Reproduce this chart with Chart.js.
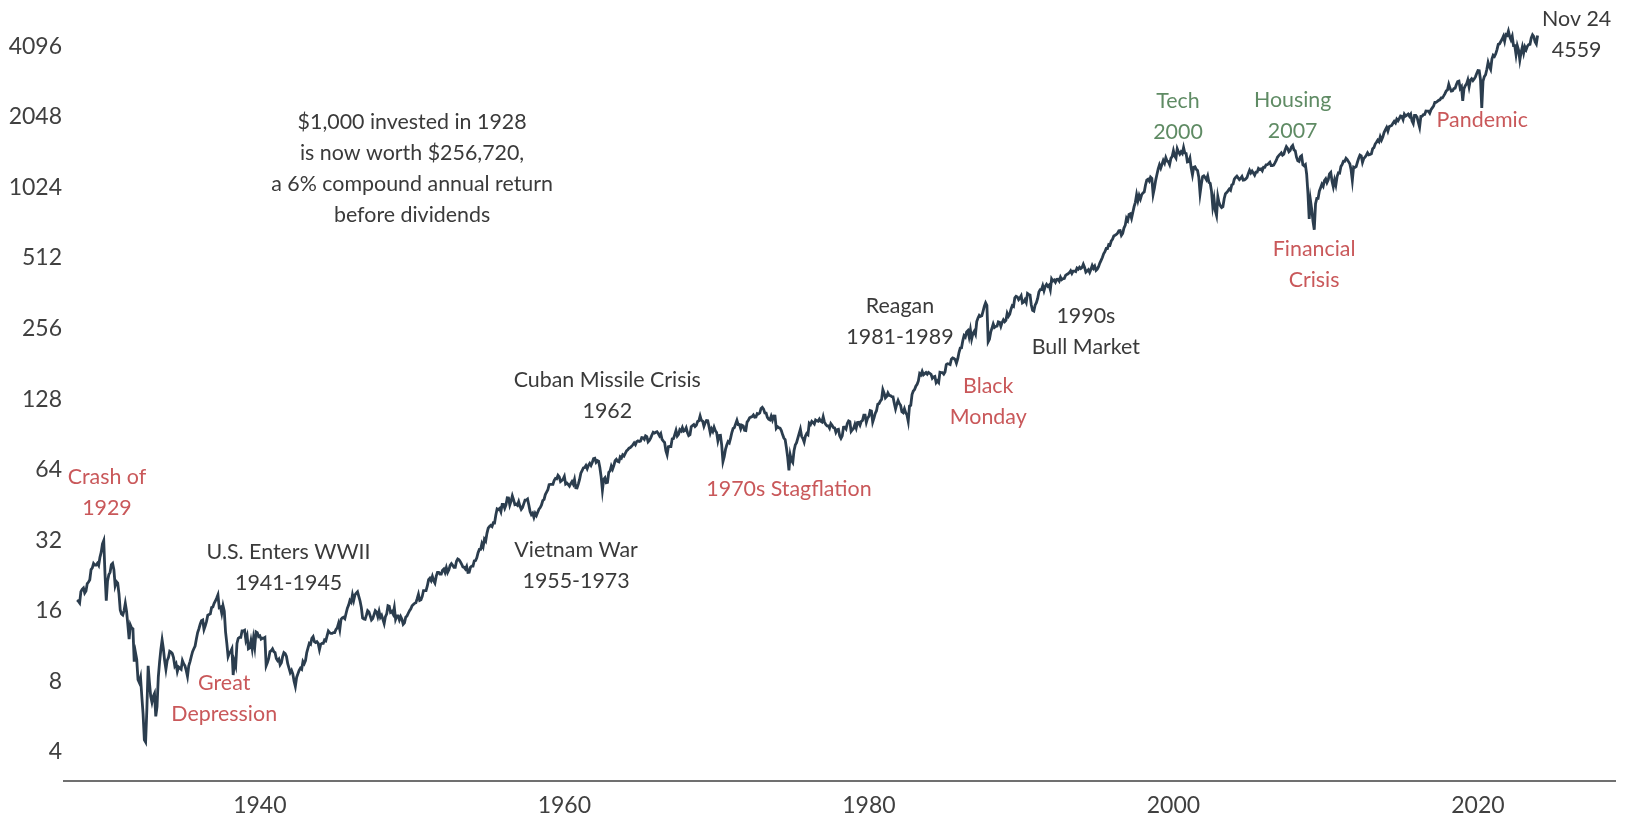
<!DOCTYPE html>
<html>
<head>
<meta charset="utf-8">
<script src="https://cdn.jsdelivr.net/npm/chart.js@4"></script>
<style>
html,body{margin:0;padding:0;background:#fff;}
canvas{display:block;}
</style>
</head>
<body>
<canvas id="c" width="1628" height="818"></canvas>
<script>
// S&P 500 level, start of 1928 then month-end values
const startYear = 1928;
const spx = [17.76,
17.57,17.26,19.28,19.75,20,19.05,19.43,20.87,21.19,21.68,23.98,24.35,
25.45,25.06,25.06,25.51,24.98,27.02,28.45,30.85,31.86,22.88,17.66,21.45,
22.79,23.32,25.14,25.46,23.94,20.46,21.3,21,18.9,16.1,15.5,15.34,
15.98,17.2,15.9,13.9,12.1,13.9,13.5,13.4,9.7,10.6,9.9,8.12,
7.9,8.3,6.9,5.8,4.5,4.4,6.1,9.3,7.9,6.9,6.5,6.89,
7.09,5.66,6.23,8.32,9.64,10.91,12,11,9.8,9,9.8,10.1,
10.74,10.66,10.5,10.08,9.3,9.5,8.8,9.2,9.1,9,9.8,9.5,
9.3,8.9,8.4,9.3,9.7,10.2,10.7,11,11.3,12.1,12.9,13.4,
14,14.5,14.6,13.3,13.8,14.4,15.3,15.4,15.5,16.5,16.6,17.2,
17.6,18.1,18.68,16.5,16.6,15.6,16.8,15.9,13,11.6,10.2,10.55,
10.7,11,8.5,9.7,9.3,11.6,12.2,12.3,12.3,13.1,13.1,13.2,
12,12.5,11,11.1,11.9,11,12.2,11.2,13,12.9,12.4,12.5,
12.1,12.2,12.2,12.3,9.3,9.6,10,10.7,10.8,11,10.7,10.6,
10,9.8,9.95,9.4,9.6,10.2,10.6,10.5,10.2,9.5,9.1,8.7,
8.9,8.6,8,7.6,8.3,8.6,8.9,9.1,9,9.7,9.5,9.8,
10.6,11.1,11.6,11.5,12.2,12.4,11.8,11.7,11.8,11.6,10.9,11.5,
11.6,11.6,12,11.9,12.5,13.1,12.9,12.8,12.8,12.9,12.9,13.3,
13.5,14.1,13.3,14.7,14.9,15,14.8,15.6,16.4,16.9,17.7,17.4,
18.7,17.7,18.7,19,19.25,18.4,17.6,16.5,14.9,14.75,14.7,15.3,
16,15.8,15.2,14.6,14.8,15.4,16,15.8,15.1,15.9,15,15.3,
14.7,14.1,15.1,15.5,16.8,16.7,15.75,15.9,15.5,16.5,14.7,15.2,
15.2,14.6,15.1,14.7,14,14.2,15,15.2,15.6,16,16.3,16.8,
17,17.2,17.3,18,18.8,17.7,17.8,18.4,19.5,19.5,19.5,20.4,
21.7,22,21.5,22.4,21.5,21,22.4,23.3,23.3,22.9,22.9,23.8,
24.1,23.3,24.4,23.3,23.9,24.96,25.4,25,24.5,24.5,26,26.6,
26.4,25.9,25.3,24.6,24.5,24.1,24.75,23.3,23.35,24.5,24.8,24.8,
26.1,26.2,26.9,28.3,29.2,29.2,30.9,30,32.3,31.7,34.2,35.98,
36.6,37,36.6,37.96,37.9,41,43.5,43.2,43.7,42.3,45.5,45.5,
43.8,45.3,48.5,48.4,45.2,46.97,49.4,47.5,45.35,45.6,45.1,46.7,
44.7,43.3,44.1,45.7,47.4,47.4,47.9,45.2,42.4,41.1,41.7,39.99,
41.7,40.8,42.1,43.4,44.1,45.2,47.2,47.75,50.1,51.3,52.5,55.2,
55.4,55.4,55.4,57.6,58.7,58.5,60.5,59.6,56.9,57.5,58.3,59.9,
55.6,56.1,55.3,54.4,55.8,56.9,55.5,58.1,53.5,53.4,55.5,58.1,
61.8,63.4,65.1,65.3,66.6,64.6,66.8,68.1,66.7,68.6,71.3,71.55,
68.8,69.96,69.55,65.2,59.6,52.3,58.2,59.1,56.3,56.5,62.3,63.1,
66.2,64.3,66.6,69.8,70.8,69.4,69.1,72.5,71.7,74,73.2,75,
77,77.8,78.98,79.5,80.4,81.7,83.2,81.8,84.2,84.9,84.4,84.75,
87.6,87.4,86.2,89.1,88.4,84.1,85.25,87.2,89.96,92.4,91.6,92.4,
92.9,91.2,89.2,91.1,86.1,84.7,83.6,77.1,74,80.2,80.45,80.3,
86.6,86.8,90.2,94,89.1,90.6,94.75,93.6,96.7,93.3,94,96.5,
92.2,89.4,90.2,97.6,98.7,99.6,97.7,98.9,102.7,103.4,108.4,103.9,
103,98.1,101.5,103.7,103.5,97.7,91.8,95.5,93.1,97.1,93.8,92.1,
85,89.5,89.6,81.5,69.3,72.7,78.05,81.5,84.2,83.25,87.2,92.15,
95.9,96.75,100.3,103.95,99.6,99.7,95.6,99,98.3,94.2,93.99,102.1,
103.9,106.6,107.2,107.7,109.5,107.1,107.4,111.1,110.55,111.6,116.7,118.05,
116,111.7,111.5,106.97,104.95,104.3,108.2,104.25,108.4,108.3,95.96,97.55,
96.6,96.2,93.98,90.3,87.3,86,79.3,72.15,63.5,73.9,69.97,68.56,
76.98,81.6,83.4,87.3,91.15,95.2,88.75,86.9,83.9,89,91.2,90.2,
100.9,99.7,102.8,101.6,100.2,104.3,103.4,102.9,105.2,102.9,102.1,107.5,
102,99.8,98.4,98.4,96.1,100.5,98.85,96.8,96.5,92.3,94.8,95.1,
89.25,87,89.2,97,97.2,95.5,100.7,103.3,102.5,93.15,94.7,96.1,
99.9,96.3,101.6,101.8,99.1,102.9,103.8,109.3,109.3,101.8,106.2,107.9,
114.2,113.7,102.1,106.3,111.2,114.2,121.7,122.4,125.5,127.5,140.5,135.8,
129.55,131.3,136,132.8,132.6,131.2,130.9,122.8,116.2,121.9,126.35,122.55,
120.4,113.1,111.96,116.4,111.9,109.6,103,119.5,120.4,133.7,138.5,140.6,
145.3,148.1,152.96,164.4,162.4,168.1,162.6,164.4,166.1,163.55,166.4,164.9,
163.4,157.1,159.2,160.05,150.55,153.2,150.7,166.7,166.1,166.1,163.6,167.2,
179.6,181.2,180.7,179.8,189.55,191.85,190.9,188.6,182.1,189.8,202.2,211.3,
211.8,226.9,238.9,235.5,247.35,250.8,236.1,252.9,231.3,243.98,249.2,242.2,
274.1,284.2,291.7,288.4,290.1,304,318.7,329.8,321.8,224.8,230.3,247.1,
257.1,267.8,258.9,261.3,262.2,273.5,272,261.5,271.9,278.97,273.7,277.7,
297.5,288.9,294.9,309.6,320.5,317.98,346.1,351.45,349.2,340.4,345.99,353.4,
329.1,331.9,339.9,330.8,361.2,358,356.2,322.6,306.05,304,322.2,330.2,
343.9,367.1,375.2,375.3,389.8,371.2,387.8,395.4,387.9,392.5,375.2,417.1,
408.8,412.7,403.7,414.95,415.35,408.1,424.2,414,417.8,418.7,431.35,435.7,
438.8,443.4,451.7,440.2,450.2,450.5,448.1,463.6,458.9,467.8,461.8,466.45,
481.6,467.1,445.8,450.9,456.5,444.3,458.3,475.5,462.7,472.35,453.7,459.3,
470.4,487.4,500.7,514.7,533.4,544.75,562.1,561.9,584.4,581.5,605.4,615.9,
636,640.4,645.5,654.2,669.1,670.6,639.95,651.99,687.3,705.3,757,740.7,
786.2,790.8,757.1,801.3,848.3,885.1,954.3,899.5,947.3,914.6,955.4,970.4,
980.3,1049.3,1101.75,1111.75,1090.8,1133.8,1120.7,957.3,1017,1098.7,1163.6,1229.2,
1279.6,1238.3,1286.4,1335.2,1301.8,1372.7,1328.7,1320.4,1282.7,1362.9,1388.9,1469.25,
1394.5,1366.4,1498.6,1452.4,1420.6,1454.6,1430.8,1517.7,1436.5,1429.4,1315.2,1320.3,
1366,1239.9,1160.3,1249.5,1255.8,1224.4,1211.2,1133.6,966,1059.8,1139.45,1148.1,
1130.2,1106.7,1147.4,1076.9,1067.1,989.8,850,916.1,815.3,777,936.3,879.8,
855.7,841.15,848.2,916.9,963.6,974.5,990.3,1008,995.97,1050.7,1058.2,1111.9,
1131.1,1144.9,1126.2,1107.3,1120.7,1140.8,1101.7,1104.2,1114.6,1130.2,1173.8,1211.9,
1181.3,1203.6,1180.6,1156.85,1191.5,1191.3,1234.2,1220.3,1228.8,1207,1249.5,1248.3,
1280.1,1280.7,1294.9,1311,1270.1,1270.2,1276.7,1303.8,1335.85,1377.9,1400.6,1418.3,
1438.2,1406.8,1420.9,1482.4,1530.6,1503.35,1455.3,1473.99,1526.75,1549.4,1481.1,1468.4,
1378.55,1330.6,1322.7,1385.6,1400.4,1280,1267.4,1282.8,1166.4,968.75,752,903.25,
825.9,735.1,676.5,872.8,919.1,919.3,987.5,1020.6,1057.1,1036.2,1095.6,1115.1,
1073.9,1104.5,1169.4,1186.7,1089.4,1030.7,1101.6,1049.3,1141.2,1183.3,1180.55,1257.6,
1286.1,1327.2,1325.8,1363.6,1345.2,1320.6,1292.3,1218.9,1099,1253.3,1246.96,1257.6,
1312.4,1365.7,1408.5,1397.9,1310.3,1362.2,1379.3,1406.6,1440.7,1412.2,1416.2,1426.2,
1498.1,1514.7,1569.2,1597.6,1630.7,1606.3,1685.7,1633,1681.55,1756.5,1805.8,1848.4,
1782.6,1859.45,1872.3,1883.95,1923.6,1960.2,1930.7,2003.4,1972.3,2018.05,2067.6,2058.9,
1994.99,2104.5,2067.9,2085.5,2107.4,2063.1,2103.8,1972.2,1920,2079.4,2080.4,2043.9,
1940.2,1850,2059.7,2065.3,2096.95,2098.9,2173.6,2170.95,2168.3,2126.15,2198.8,2238.8,
2278.9,2363.6,2362.7,2384.2,2411.8,2423.4,2470.3,2471.65,2519.4,2575.3,2647.6,2673.6,
2823.8,2713.8,2640.9,2648.05,2705.3,2718.4,2816.3,2901.5,2913.98,2711.7,2760.2,2400,
2704.1,2784.5,2834.4,2945.8,2752.1,2941.8,2980.4,2926.5,2976.7,3037.6,3140.98,3230.8,
3225.5,2954.2,2237.4,2912.4,3044.3,3100.3,3271.1,3500.3,3363,3269.96,3621.6,3756.1,
3714.2,3811.15,3972.9,4181.2,4204.1,4297.5,4395.3,4522.7,4307.5,4605.4,4567,4766.2,
4515.55,4373.9,4530.4,4131.9,4132.15,3785.4,4130.3,3955,3585.6,3871.98,4080.1,3839.5,
4076.6,3970.15,4109.3,4169.5,4179.8,4450.4,4588.96,4507.7,4288.05,4193.8,4559.34];

const yTicks = [4, 8, 16, 32, 64, 128, 256, 512, 1024, 2048, 4096];
const xTicks = [1940, 1960, 1980, 2000, 2020];

// Annotation texts, anchored in data coordinates (year, index level) of their first line
const notes = [
  {lines:["$1,000 invested in 1928","is now worth $256,720,","a 6% compound annual return","before dividends"], year:1950.0, level:1941, kind:"dark"},
  {lines:["Crash of","1929"], year:1929.96, level:59.3, kind:"red"},
  {lines:["U.S. Enters WWII","1941-1945"], year:1941.89, level:28.4, kind:"dark"},
  {lines:["Great","Depression"], year:1937.66, level:7.86, kind:"red"},
  {lines:["Cuban Missile Crisis","1962"], year:1962.82, level:154.6, kind:"dark"},
  {lines:["Vietnam War","1955-1973"], year:1960.77, level:29.0, kind:"dark"},
  {lines:["1970s Stagflation"], year:1974.75, level:53.0, kind:"red"},
  {lines:["Reagan","1981-1989"], year:1982.04, level:319, kind:"dark"},
  {lines:["Black","Monday"], year:1987.84, level:145.5, kind:"red"},
  {lines:["1990s","Bull Market"], year:1994.25, level:288, kind:"dark"},
  {lines:["Tech","2000"], year:2000.3, level:2390, kind:"green"},
  {lines:["Housing","2007"], year:2007.83, level:2420, kind:"green"},
  {lines:["Financial","Crisis"], year:2009.24, level:559, kind:"red"},
  {lines:["Pandemic"], year:2020.28, level:1982, kind:"red"},
  {lines:["Nov 24","4559"], year:2026.48, level:5382, kind:"dark"}
];

const COLORS = {dark:"#3a3a3a", tick:"#404040", red:"#c9585a", green:"#5f8b64", line:"#2b3d4e", axis:"#707070"};
const FONT = "Lato";
const NOTE_SIZE = 21.4;
const TICK_SIZE = 23;
const LINE_H = 31;

const points = spx.map((v, i) => ({x: startYear + i / 12, y: v}));

const notePlugin = {
  id: 'notes',
  afterDatasetsDraw(chart) {
    const {ctx, scales} = chart;
    ctx.save();
    ctx.font = NOTE_SIZE + "px " + FONT;
    ctx.textAlign = "center";
    ctx.textBaseline = "middle";
    notes.forEach(n => {
      const px = scales.x.getPixelForValue(n.year);
      const py = scales.y.getPixelForValue(n.level);
      ctx.fillStyle = COLORS[n.kind];
      n.lines.forEach((t, k) => ctx.fillText(t, px, py + k * LINE_H));
    });
    ctx.restore();
  }
};

new Chart(document.getElementById('c'), {
  type: 'line',
  data: {
    datasets: [{
      data: points,
      borderColor: COLORS.line,
      borderWidth: 2.8,
      pointRadius: 0,
      tension: 0,
      fill: false
    }]
  },
  options: {
    responsive: false,
    animation: false,
    devicePixelRatio: 1,
    parsing: false,
    layout: {padding: {top: 7.6, right: 13, bottom: 0, left: 0}},
    plugins: {legend: {display: false}, tooltip: {enabled: false}},
    scales: {
      x: {
        type: 'linear',
        min: 1927.14,
        max: 2029.0,
        grid: {display: false, drawTicks: false},
        border: {display: true, color: COLORS.axis, width: 2},
        afterBuildTicks: s => { s.ticks = xTicks.map(v => ({value: v})); },
        afterFit: s => { s.height = 37; s.paddingLeft = 0; s.paddingRight = 0; },
        ticks: {
          color: COLORS.tick,
          font: {family: FONT, size: TICK_SIZE},
          padding: 10.5,
          maxRotation: 0,
          autoSkip: false,
          callback: v => String(v)
        }
      },
      y: {
        type: 'logarithmic',
        min: 3,
        max: 6000,
        grid: {display: false, drawTicks: false},
        border: {display: false},
        afterBuildTicks: s => { s.ticks = yTicks.map(v => ({value: v})); },
        afterFit: s => { s.width = 64; s.paddingTop = 0; s.paddingBottom = 0; },
        ticks: {
          color: COLORS.tick,
          font: {family: FONT, size: TICK_SIZE},
          padding: 2,
          autoSkip: false,
          callback: v => String(v)
        }
      }
    }
  },
  plugins: [notePlugin]
});
</script>
</body>
</html>
